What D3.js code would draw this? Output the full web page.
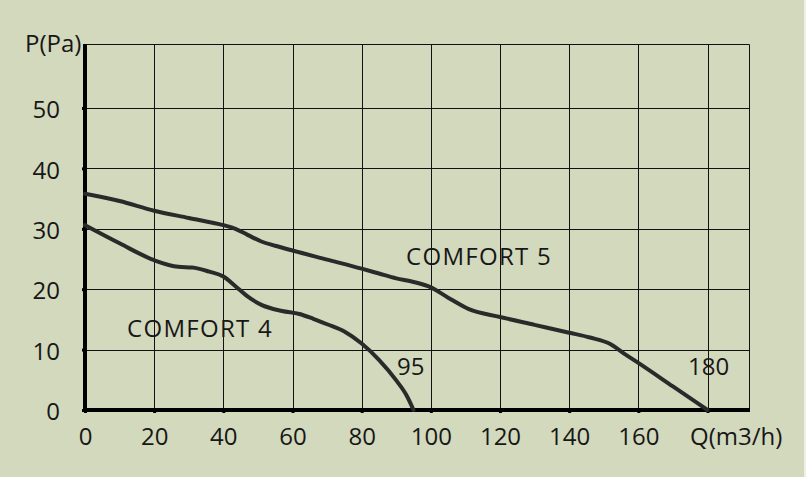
<!DOCTYPE html>
<meta charset="utf-8">
<script src="https://d3js.org/d3.v7.min.js"></script>
<style type="text/css">
body { margin: 0; background: #eef0e6; }
text { font-family: "Open Sans", sans-serif; fill: #171717; }
.grid line { stroke: #111; stroke-width: 1; }
.curve { fill: none; stroke: #2a2a2a; stroke-width: 4; stroke-linecap: round; }
.lbl { font-size: 24px; }
</style>
<body>
<script>

// flow Q (m3/h) vs pressure P (Pa)
var xTicks = [0, 20, 40, 60, 80, 100, 120, 140, 160];
var yTicks = [0, 10, 20, 30, 40, 50];
var comfort5Q = [0, 10, 20, 30, 40, 43.5, 47, 51, 55, 60, 70, 80, 85, 90, 95, 100, 105, 111, 120, 130, 140, 146, 152, 156, 160, 170, 180];
var comfort5P = [35.8, 34.6, 33.0, 31.8, 30.6, 30.0, 29.0, 27.9, 27.2, 26.4, 24.9, 23.4, 22.6, 21.8, 21.2, 20.3, 18.6, 16.7, 15.4, 14.1, 12.8, 12.0, 10.9, 9.3, 7.8, 3.9, 0];
var comfort4Q = [0, 10, 20, 27, 31, 36, 40, 43.5, 47, 51, 57, 62, 66, 70, 75, 80, 85, 90, 93, 95];
var comfort4P = [30.6, 27.6, 24.8, 23.7, 23.6, 22.9, 22.1, 20.5, 18.8, 17.4, 16.4, 15.9, 15.1, 14.2, 13.0, 11.0, 8.3, 4.9, 2.4, 0];

var width = 806, height = 477;

var svg = d3.select("body").append("svg")
    .attr("width", width)
    .attr("height", height);

svg.append("rect").attr("width", 804).attr("height", height).style("fill", "#d3d9bc");

var x = d3.scaleLinear().domain([0, 192]).range([85, 749]);
var y = d3.scaleLinear().domain([0, 60.6]).range([410, 44]);

function px(v) { return Math.round(v) + 0.5; }

// grid
var grid = svg.append("g").attr("class", "grid");
grid.selectAll("line.v").data(xTicks.slice(1).concat([180, 192])).enter().append("line")
    .attr("class", "v")
    .attr("x1", function(d) { return px(x(d)); }).attr("x2", function(d) { return px(x(d)); })
    .attr("y1", y(0)).attr("y2", px(y(60.6)));
grid.selectAll("line.h").data(yTicks.slice(1).concat([60.6])).enter().append("line")
    .attr("class", "h")
    .attr("x1", x(0)).attr("x2", px(x(192)))
    .attr("y1", function(d) { return px(y(d)); }).attr("y2", function(d) { return px(y(d)); });

// axes
var xAxis = d3.axisBottom(x).tickValues(xTicks.concat([180])).tickSize(3).tickPadding(15)
    .tickFormat(function(d) { return d == 180 ? "" : d; });
var gx = svg.append("g").attr("transform", "translate(0," + y(0) + ")").call(xAxis);
gx.select(".domain").attr("d", "M" + x(0) + ",0H" + (x(192) + 1)).style("stroke", "#000").style("stroke-width", 4);
gx.selectAll(".tick line").style("stroke", "#000").style("stroke-width", 3);
gx.selectAll(".tick text").style("font-size", "24px").style("font-family", "'Open Sans', sans-serif").style("fill", "#171717");

var yAxis = d3.axisLeft(y).tickValues(yTicks).tickSize(3).tickPadding(22);
var gy = svg.append("g").attr("transform", "translate(" + x(0) + ",0)").call(yAxis);
gy.select(".domain").attr("d", "M0," + (y(0) + 2) + "V" + y(60.6)).style("stroke", "#000").style("stroke-width", 4);
gy.selectAll(".tick line").style("stroke", "#000").style("stroke-width", 3);
gy.selectAll(".tick text").attr("dy", "0.4em").style("font-size", "24px").style("font-family", "'Open Sans', sans-serif").style("fill", "#171717");

// curves
var line = d3.line()
    .x(function(d) { return x(d[0]); })
    .y(function(d) { return y(d[1]); })
    .curve(d3.curveMonotoneX);

svg.append("path").attr("class", "curve").attr("d", line(d3.zip(comfort5Q, comfort5P)));
svg.append("path").attr("class", "curve").attr("d", line(d3.zip(comfort4Q, comfort4P)));

// labels
svg.append("text").attr("class", "lbl").attr("x", 25).attr("y", 52).text("P(Pa)");
svg.append("text").attr("class", "lbl").attr("x", 690).attr("y", 445).text("Q(m3/h)");
svg.append("text").attr("class", "lbl").attr("x", 127).attr("y", 337).style("letter-spacing", "1.3px").text("COMFORT 4");
svg.append("text").attr("class", "lbl").attr("x", 406).attr("y", 265).style("letter-spacing", "1.3px").text("COMFORT 5");
svg.append("text").attr("class", "lbl").attr("x", 397).attr("y", 375).text("95");
svg.append("text").attr("class", "lbl").attr("x", 688).attr("y", 375).text("180");

</script>
</body>
</html>
